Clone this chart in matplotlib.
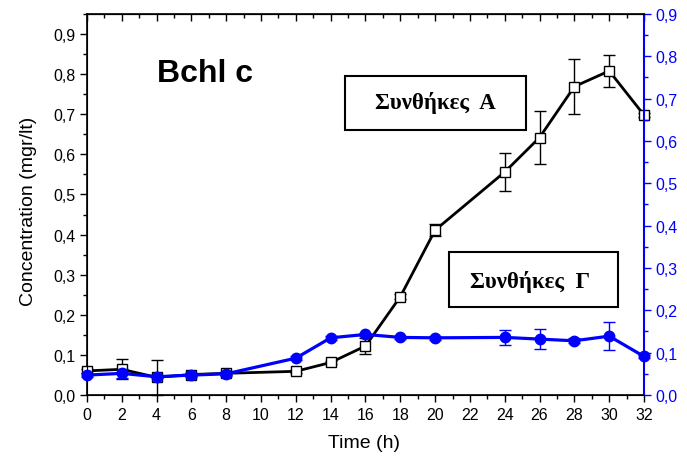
import numpy as np
import matplotlib
matplotlib.use('Agg')
import matplotlib.pyplot as plt
from matplotlib.ticker import MultipleLocator, FuncFormatter
from matplotlib.patches import Rectangle

# time points (h)
time_h = [0, 2, 4, 6, 8, 12, 14, 16, 18, 20, 24, 26, 28, 30, 32]

# Συνθήκες Α (left axis)
conc_a = [0.060, 0.064, 0.044, 0.051, 0.054, 0.059, 0.081, 0.122, 0.245, 0.411,
          0.556, 0.642, 0.769, 0.808, 0.698]
err_a = [0.004, 0.025, 0.044, 0.004, 0.004, 0.004, 0.004, 0.020, 0.006, 0.015,
         0.047, 0.065, 0.068, 0.040, 0.004]

# Συνθήκες Γ (right axis)
conc_g = [0.047, 0.051, 0.043, 0.047, 0.050, 0.087, 0.135, 0.143, 0.136, 0.135,
          0.136, 0.132, 0.128, 0.139, 0.091]
err_g = [0.004, 0.010, 0.004, 0.004, 0.004, 0.004, 0.004, 0.004, 0.004, 0.004,
         0.018, 0.024, 0.006, 0.033, 0.004]

comma = FuncFormatter(lambda v, p: f'{v:.1f}'.replace('.', ','))

plt.rcParams['font.family'] = ['Liberation Sans', 'DejaVu Sans']

fig = plt.figure(figsize=(6.87, 4.64), dpi=100)
ax = fig.add_axes([0.1266, 0.1466, 0.8108, 0.8211])
ax2 = ax.twinx()

ax.errorbar(time_h, conc_a, yerr=err_a, color='black', lw=2, ecolor='black',
            elinewidth=1, capsize=4, capthick=1, marker='s', ms=6.5,
            mfc='white', mec='black', mew=1, clip_on=False, zorder=3)
ax2.errorbar(time_h, conc_g, yerr=err_g, color='#0000ff', lw=2.3, ecolor='#0000ff',
             elinewidth=1, capsize=4, capthick=1, marker='o', ms=7.5,
             mfc='#0000ff', mec='#0000ff', clip_on=False, zorder=3)

ax.set_xlim(0, 32)
ax.set_ylim(0, 0.95)
ax2.set_ylim(0, 0.9)

ax.xaxis.set_major_locator(MultipleLocator(2))
ax.xaxis.set_minor_locator(MultipleLocator(1))
ax.yaxis.set_major_locator(MultipleLocator(0.1))
ax.yaxis.set_minor_locator(MultipleLocator(0.05))
ax2.yaxis.set_major_locator(MultipleLocator(0.1))
ax2.yaxis.set_minor_locator(MultipleLocator(0.05))
ax.yaxis.set_major_formatter(comma)
ax2.yaxis.set_major_formatter(comma)

ax.tick_params(axis='both', which='major', direction='out', length=5, width=1,
               labelsize=11.5, right=False)
ax.tick_params(axis='both', which='minor', direction='out', length=3, width=1,
               right=False)
ax2.tick_params(axis='y', which='major', direction='out', length=5, width=1,
                colors='#0000ff', labelsize=11.5)
ax2.tick_params(axis='y', which='minor', direction='out', length=3, width=1,
                colors='#0000ff')

# inward ticks along the top edge
top = ax.secondary_xaxis('top')
top.set_xticks(np.arange(0, 33, 2))
top.set_xticks(np.arange(0, 33, 1), minor=True)
top.tick_params(which='major', direction='in', length=5, width=1, labeltop=False)
top.tick_params(which='minor', direction='in', length=3, width=1)

for s in ax.spines.values():
    s.set_linewidth(1.2)
ax2.spines['right'].set_color('#0000ff')
ax2.spines['right'].set_linewidth(1.5)

ax.set_xlabel('Time (h)', fontsize=14)
ax.set_ylabel('Concentration (mgr/lt)', fontsize=14)
ax.xaxis.set_label_coords(0.497, -0.103)
ax.yaxis.set_label_coords(-0.09, 0.485)

ax.text(0.125, 0.845, 'Bchl c', transform=ax.transAxes, fontsize=23,
        fontweight='bold', ha='left', va='center')

# condition labels in framed boxes
ax.text(0.625, 0.7525, 'Συνθήκες  Α', transform=ax.transAxes, fontsize=16.5,
        fontweight='bold', family='Liberation Serif', ha='center', va='baseline')
ax.text(0.795, 0.2835, 'Συνθήκες  Γ', transform=ax.transAxes, fontsize=16.5,
        fontweight='bold', family='Liberation Serif', ha='center', va='baseline')
ax.add_patch(Rectangle((0.463, 0.6955), 0.325, 0.1417, transform=ax.transAxes,
                       fill=False, ec='black', lw=1.5, zorder=4))
ax.add_patch(Rectangle((0.650, 0.231), 0.3034, 0.1444, transform=ax.transAxes,
                       fill=False, ec='black', lw=1.5, zorder=4))

fig.savefig('out.png', dpi=100)
